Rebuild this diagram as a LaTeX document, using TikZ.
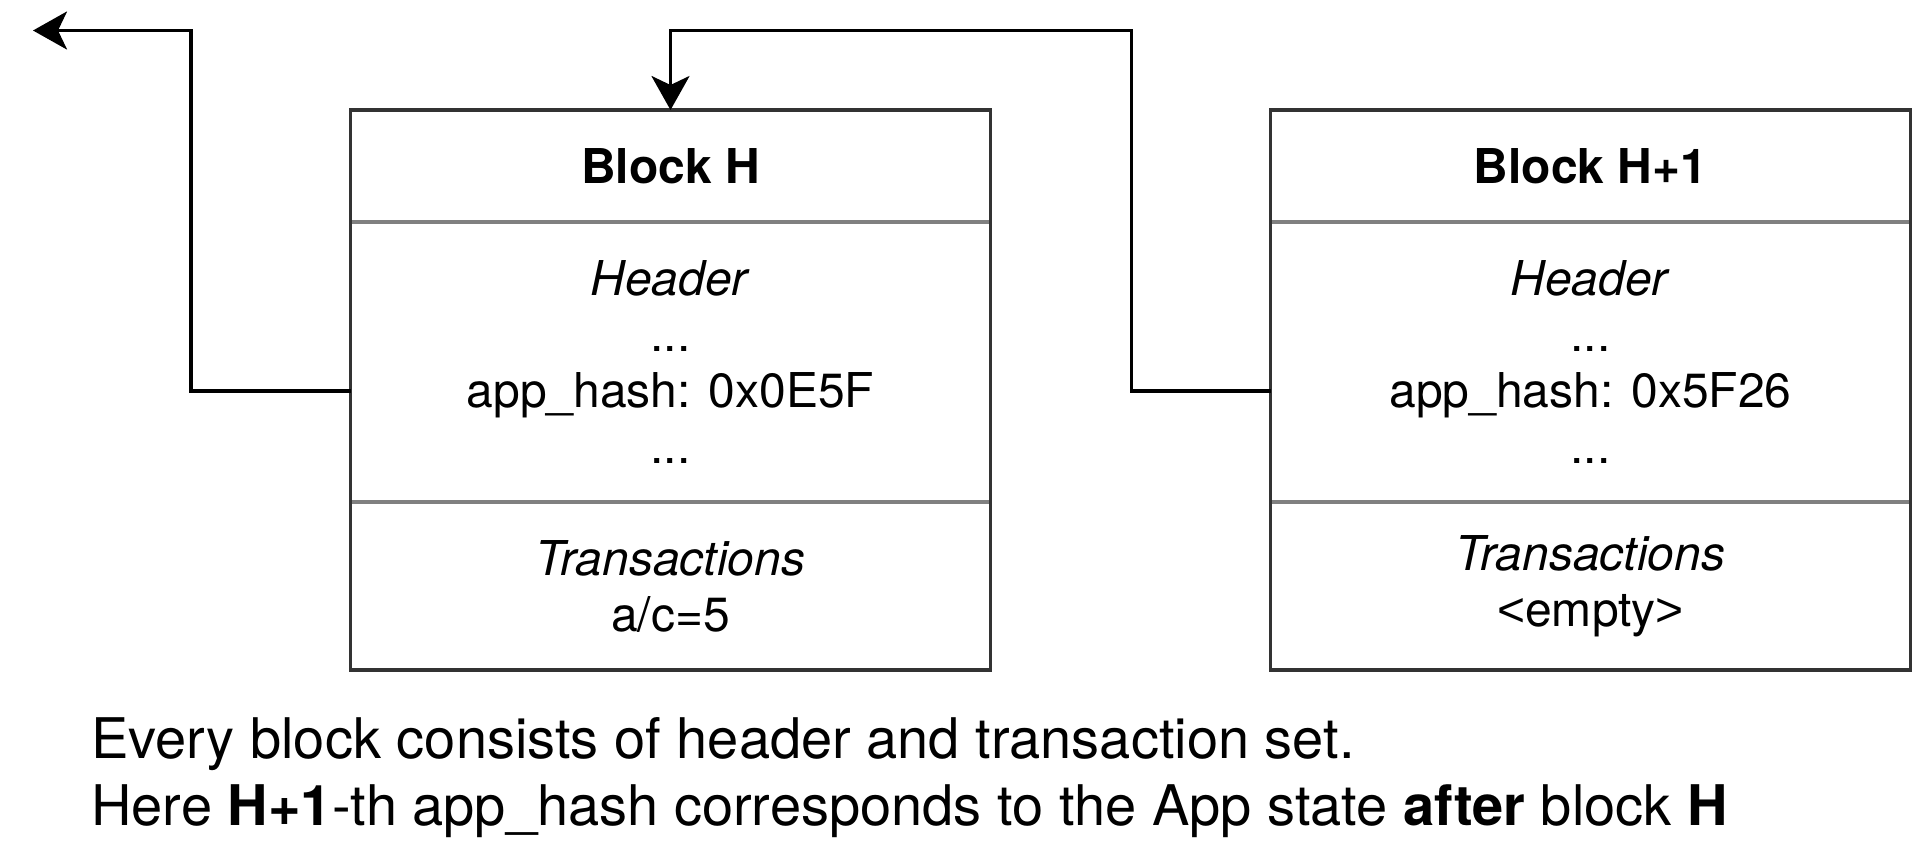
\documentclass[tikz,border=0pt]{standalone}
\usepackage{fontspec}
\setmainfont{TeX Gyre Heros}
\newfontfamily\arialfont{Liberation Sans}
\usepackage{tikz}
\usetikzlibrary{positioning,arrows.meta}

\tikzset{
  sect/.style={minimum width=320pt, inner sep=2pt, outer sep=0pt, align=center,
    font=\fontsize{24}{28}\selectfont},
  outline/.style={draw=black!80, line width=1.65pt},
  divider/.style={draw=black!50, line width=1.65pt},
  link/.style={line width=1.65pt, -{Stealth[length=17pt,width=19pt,inset=4.5pt]}},
}

\begin{document}
\begin{tikzpicture}[x=0.5pt,y=-0.5pt]
  \useasboundingbox (0,0) rectangle (1914,858);
  \node[sect, minimum height=56pt] (hTitle) at (670.5,166) {\textbf{Block H}};
  \node[sect, minimum height=140pt, below=0pt of hTitle] (hHead)
    {\textit{Header}\\...\\app\_hash: 0x0E5F\\...};
  \node[sect, minimum height=84pt, below=0pt of hHead] (hTx)
    {\textit{Transactions}\\a/c=5};
  \draw[divider] (hTitle.south west) -- (hTitle.south east);
  \draw[divider] (hHead.south west) -- (hHead.south east);
  \draw[outline] (hTitle.north west) rectangle (hTx.south east);

  \node[sect, minimum height=56pt] (nTitle) at (1590.5,166) {\textbf{Block H+1}};
  \node[sect, minimum height=140pt, below=0pt of nTitle] (nHead)
    {\textit{Header}\\...\\app\_hash: 0x5F26\\...};
  \node[sect, minimum height=84pt, below=0pt of nHead] (nTx)
    {\textit{Transactions}\\{\arialfont<}empty{\arialfont>}};
  \draw[divider] (nTitle.south west) -- (nTitle.south east);
  \draw[divider] (nHead.south west) -- (nHead.south east);
  \draw[outline] (nTitle.north west) rectangle (nTx.south east);

  \coordinate (hHash) at ([yshift=-14.5pt]hHead.west);
  \coordinate (nHash) at ([yshift=-14.5pt]nHead.west);
  \coordinate (hTurn) at (191,30.5);
  \coordinate (nTurn) at (1131.5,30.5);
  \coordinate (prevTip) at (33,30.5);
  \draw[link] (hHash) -| (hTurn) -- (prevTip);
  \draw[link] (nHash) -| (nTurn) -| (hTitle.north);

  \node[anchor=west, inner sep=0pt, align=left, font=\fontsize{28}{33.5}\selectfont]
    (note) at (91,778) {Every block consists of header and transaction set.\\
    Here \textbf{H+1}-th app\_hash corresponds to the App state \textbf{after} block \textbf{H}};
\end{tikzpicture}
\end{document}
